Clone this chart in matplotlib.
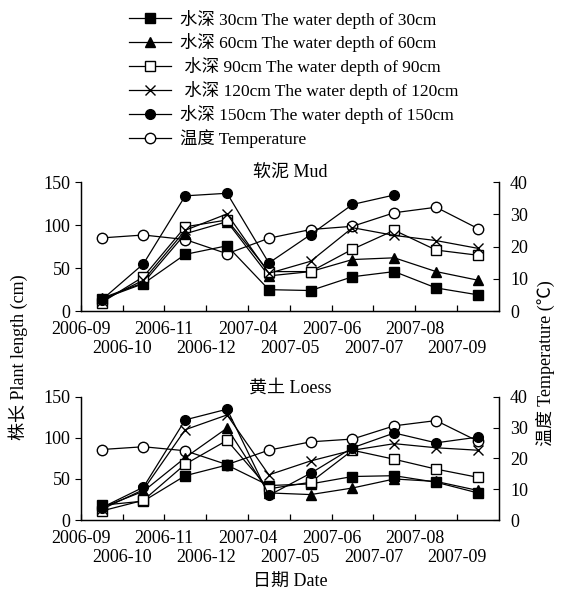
import numpy as np
import matplotlib
matplotlib.use("Agg")
import matplotlib.pyplot as plt

plt.rcParams['font.family'] = ['Liberation Serif', 'Noto Sans CJK SC']

dates = ['2006-09', '2006-10', '2006-11', '2006-12', '2007-04',
         '2007-05', '2007-06', '2007-07', '2007-08', '2007-09']

# 软泥 Mud
mud_30 = [14, 32, 66, 76, 25, 24, 40, 46, 27, 19]
mud_60 = [15, 33, 90, 104, 41, 46, 60, 62, 46, 36]
mud_90 = [10, 40, 98, 106, 46, 46, 72, 94, 71, 65]
mud_120 = [12, 36, 94, 113, 44, 58, 97, 88, 82, 73]
mud_150 = [13, 55, 134, 137, 56, 89, 124, 135, np.nan, np.nan]
mud_temp = [22.7, 23.6, 22.2, 17.8, 22.6, 25.3, 26.3, 30.5, 32.2, 25.6]

# 黄土 Loess
loess_30 = [18, 23, 54, 67, 42, 44, 53, 54, 46, 33]
loess_60 = [15, 35, 76, 112, 33, 31, 39, 50, 47, 36]
loess_90 = [11, 24, 68, 97, 38, 46, 85, 74, 62, 52]
loess_120 = [13, 37, 110, 128, 55, 72, 85, 93, 88, 85]
loess_150 = [15, 40, 122, 135, 30, 57, 88, 106, 94, 101]
loess_temp = [22.9, 23.8, 22.5, 18.0, 22.7, 25.4, 26.3, 30.6, 32.3, 25.6]

labels = ['水深 30cm The water depth of 30cm',
          '水深 60cm The water depth of 60cm',
          ' 水深 90cm The water depth of 90cm',
          ' 水深 120cm The water depth of 120cm',
          '水深 150cm The water depth of 150cm',
          '温度 Temperature']

styles = [dict(marker='s', mfc='black', ms=6.5),
          dict(marker='^', mfc='black', ms=7),
          dict(marker='s', mfc='white', ms=7.5),
          dict(marker='x', mfc='none', ms=7, mew=1.0),
          dict(marker='o', mfc='black', ms=7)]
temp_style = dict(marker='o', mfc='white', ms=7.5)

FS = 13

fig = plt.figure(figsize=(5.62, 5.95), dpi=100)
x = np.arange(len(dates))


def panel(rect, series, temp, title):
    ax = fig.add_axes(rect)
    ax2 = ax.twinx()
    handles = []
    for s, st in zip(series, styles):
        h, = ax.plot(x, s, color='black', lw=0.9, mec='black', **st)
        handles.append(h)
    ht, = ax2.plot(x, temp, color='black', lw=0.9, mec='black', **temp_style)
    handles.append(ht)
    ax.set_zorder(ax2.get_zorder() + 1)
    ax.patch.set_visible(False)

    ax.set_xlim(-0.5, 9.5)
    ax.set_ylim(0, 150)
    ax2.set_ylim(0, 40)
    ax.set_yticks([0, 50, 100, 150])
    ax2.set_yticks([0, 10, 20, 30, 40])
    # staggered labels: even ones on the first row, odd ones on the second
    bounds = x - 0.5
    ax.set_xticks(bounds[::2], dates[::2])
    ax.set_xticks(bounds[1::2], dates[1::2], minor=True)
    ax.tick_params(axis='x', which='both', direction='in', length=4,
                   labelsize=FS, width=0.9)
    ax.tick_params(axis='x', which='major', pad=7)
    ax.tick_params(axis='x', which='minor', pad=21)
    ax.tick_params(axis='y', direction='out', length=4, labelsize=FS)
    ax2.tick_params(axis='y', direction='in', length=4, labelsize=FS, pad=8)
    for a in (ax, ax2):
        a.spines['top'].set_visible(False)
        for sp in a.spines.values():
            sp.set_linewidth(0.9)
    ax.set_title(title, fontsize=FS, pad=2)
    return handles


handles = panel([0.1436, 0.477, 0.744, 0.217],
                [mud_30, mud_60, mud_90, mud_120, mud_150], mud_temp, '软泥 Mud')
panel([0.1436, 0.126, 0.744, 0.207],
      [loess_30, loess_60, loess_90, loess_120, loess_150], loess_temp, '黄土 Loess')

fig.legend(handles, labels, loc='upper left', bbox_to_anchor=(0.213, 1.0),
           frameon=False, fontsize=12.5, handlelength=2.4, handletextpad=0.5,
           labelspacing=0.28, borderaxespad=0.15)

fig.text(0.032, 0.40, '株长 Plant length (cm)', rotation=90, ha='center',
         va='center', fontsize=FS)
fig.text(0.970, 0.39, '温度 Temperature (℃)', rotation=90, ha='center',
         va='center', fontsize=FS)
fig.text(0.516, 0.022, '日期 Date', ha='center', va='center', fontsize=FS)

fig.savefig('out.png', dpi=100)
